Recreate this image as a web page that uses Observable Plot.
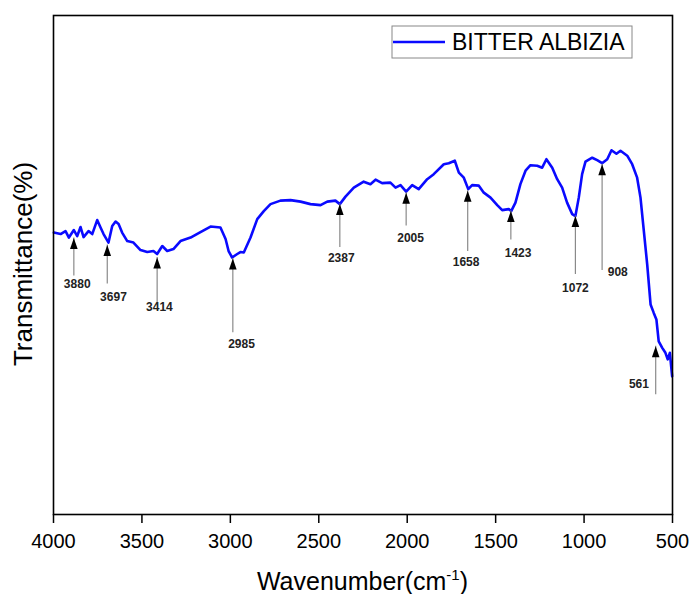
<!DOCTYPE html>
<html><head><meta charset="utf-8">
<script src="https://cdn.jsdelivr.net/npm/d3@7"></script>
<script src="https://cdn.jsdelivr.net/npm/@observablehq/plot@0.6"></script>
<style>
body{margin:0;background:#fff}
#chart{width:691px;height:594px}
</style>
</head><body><div id="chart"></div>
<script>
// FTIR spectrum
const wavenumber = [3998,3960,3932,3913,3885,3866,3847,3830,3802,3781,3753,3734,3717,3689,3668,3649,3632,3612,3583,3548,3508,3470,3435,3414,3385,3357,3322,3282,3225,3169,3112,3056,3027,3010,2990,2961,2943,2924,2886,2848,2811,2773,2717,2660,2603,2547,2490,2452,2406,2381,2349,2302,2246,2208,2179,2142,2095,2066,2038,2006,1972,1935,1887,1850,1793,1765,1731,1708,1680,1655,1633,1595,1567,1529,1491,1463,1426,1412,1388,1360,1331,1303,1265,1237,1213,1180,1152,1124,1096,1067,1049,1030,1011,992,954,926,898,869,845,817,794,756,728,700,681,662,643,624,606,591,578,558,540,527,515,502];
const transmittance = [56.5,56.2,56.8,55.5,57.0,55.8,57.6,55.6,56.8,56.2,59.0,57.5,56.2,54.5,57.8,58.7,58.2,56.5,54.8,54.5,53.0,52.6,52.8,52.2,53.8,52.8,53.2,54.8,55.5,56.6,57.7,57.5,55.2,52.8,51.5,52.2,52.6,52.5,55.5,59.2,60.8,62.2,62.9,63.0,62.7,62.2,62.0,62.7,62.9,62.2,63.7,65.5,66.7,66.2,67.1,66.4,66.5,65.5,66.0,64.7,66.0,65.2,67.2,68.2,70.2,70.4,70.9,68.5,67.5,65.2,66.0,65.9,64.5,63.5,62.0,61.0,61.2,60.8,62.5,66.2,68.9,70.0,69.9,69.5,71.2,69.5,67.2,65.5,62.5,60.2,59.8,63.5,68.2,70.7,71.5,71.0,70.4,71.2,73.0,72.3,72.9,71.9,70.2,67.5,63.5,56.8,50.1,42.1,40.4,39.1,34.7,33.4,32.4,31.1,32.4,27.7];
const seriesName = "BITTER ALBIZIA";
const xTicks = [4000,3500,3000,2500,2000,1500,1000,500];

// peak annotations
const peakLabels = ["3880","3697","3414","2985","2387","2005","1658","1423","1072","908","561"];
const arrowWavenumber = [3885,3696,3414,2986,2381,2006,1658,1414,1049,898,595];
const arrowTip = [55.4,54.0,51.5,51.3,62.2,64.5,64.9,60.8,59.8,70.2,33.7];
const arrowTail = [47.8,46.2,42.4,36.4,53.5,57.8,52.7,55.0,48.1,48.9,24.0];
const labelWavenumber = [3866,3661,3401,2937,2373,1981,1667,1373,1049,866,690];
const labelLevel = [46.2,43.6,41.6,34.2,51.3,55.4,50.6,52.3,45.3,48.5,26.2];
const labelAnchor = ["middle","middle","middle","middle","middle","middle","middle","middle","middle","start","middle"];

const spectrum = wavenumber.map((w, i) => ({w, t: transmittance[i]}));
const peaks = peakLabels.map((label, i) => ({
  label, ax: arrowWavenumber[i], tip: arrowTip[i], tail: arrowTail[i],
  lx: labelWavenumber[i], ly: labelLevel[i], anchor: labelAnchor[i]
}));

const arrowHead = {draw(ctx) { ctx.moveTo(0, 0); ctx.lineTo(-3.8, 11); ctx.lineTo(3.8, 11); ctx.closePath(); }};
const FONT = "'Liberation Sans', Arial, Helvetica, sans-serif";

const chart = Plot.plot({
  width: 691, height: 594,
  marginLeft: 53, marginRight: 19, marginTop: 15, marginBottom: 80,
  style: {fontFamily: FONT, fontSize: "20px", background: "#fff", color: "#000"},
  x: {domain: [4000, 500], label: null},
  y: {domain: [0, 100], axis: null},
  marks: [
    Plot.axisX({ticks: xTicks, tickSize: 9, tickPadding: 10, tickFormat: d => String(d), label: null, strokeWidth: 1.5, fontSize: 20}),
    Plot.line(spectrum, {x: "w", y: "t", stroke: "#0a0aff", strokeWidth: 2.6, strokeLinejoin: "round"}),
    Plot.ruleX(peaks, {x: "ax", y1: "tail", y2: "tip", stroke: "#8a8a8a", strokeWidth: 1.2}),
    Plot.dot(peaks, {x: "ax", y: "tip", symbol: arrowHead, fill: "#000", stroke: "none"}),
    Plot.text(peaks.filter(d => d.anchor === "middle"), {x: "lx", y: "ly", text: "label", fontWeight: "bold", fontSize: 12, fill: "#222"}),
    Plot.text(peaks.filter(d => d.anchor === "start"), {x: "lx", y: "ly", text: "label", textAnchor: "start", fontWeight: "bold", fontSize: 12, fill: "#222"}),
    Plot.frame({stroke: "#000", strokeWidth: 1.6})
  ]
});
document.getElementById("chart").appendChild(chart);

const svg = d3.select(chart);
// x-axis title with superscript
const xt = svg.append("text").attr("x", 362.5).attr("y", 590).attr("text-anchor", "middle")
  .attr("font-family", FONT).attr("font-size", 25).attr("fill", "#000");
xt.append("tspan").text("Wavenumber(cm");
xt.append("tspan").attr("dy", -10).attr("font-size", 15).text("-1");
xt.append("tspan").attr("dy", 10).text(")");
// y-axis title
svg.append("text").attr("transform", "translate(32,264) rotate(-90)").attr("text-anchor", "middle")
  .attr("font-family", FONT).attr("font-size", 26).attr("fill", "#000").text("Transmittance(%)");
// legend
const lg = svg.append("g");
lg.append("rect").attr("x", 392).attr("y", 26).attr("width", 240).attr("height", 32)
  .attr("fill", "#fff").attr("stroke", "#888").attr("stroke-width", 1);
lg.append("line").attr("x1", 393).attr("x2", 445).attr("y1", 42).attr("y2", 42)
  .attr("stroke", "#0a0aff").attr("stroke-width", 2.6);
lg.append("text").attr("x", 452).attr("y", 50).attr("text-anchor", "start").attr("font-family", FONT).attr("font-size", 23)
  .attr("fill", "#000").text(seriesName);
</script>
</body></html>
